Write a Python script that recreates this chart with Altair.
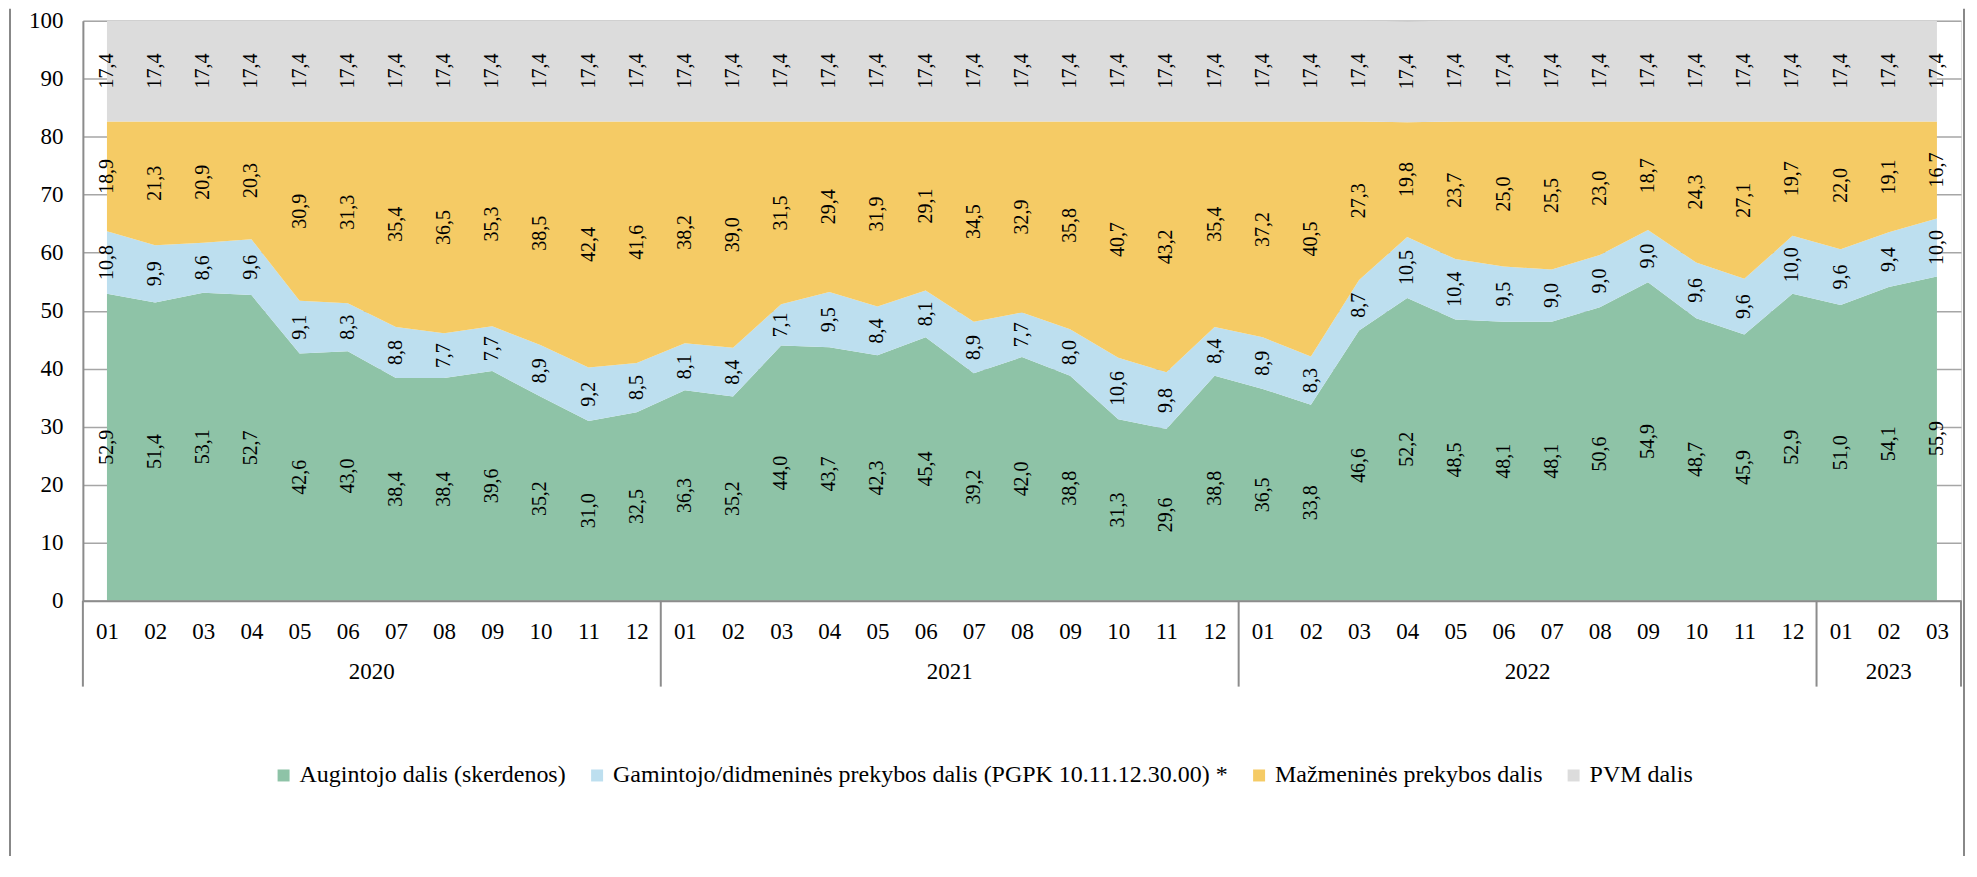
import altair as alt
import pandas as pd

years = ["2020", "2021", "2022", "2023"]
months_per_year = [12, 12, 12, 3]
month_labels = ["01", "02", "03", "04", "05", "06", "07", "08", "09", "10", "11", "12",
                "01", "02", "03", "04", "05", "06", "07", "08", "09", "10", "11", "12",
                "01", "02", "03", "04", "05", "06", "07", "08", "09", "10", "11", "12",
                "01", "02", "03"]

series = ["Augintojo dalis (skerdenos)",
          "Gamintojo/didmeninės prekybos dalis (PGPK 10.11.12.30.00) *",
          "Mažmeninės prekybos dalis",
          "PVM dalis"]
colors = ["#8EC3A7", "#BDDFEF", "#F5CB65", "#DCDCDC"]

augintojo = [52.9, 51.4, 53.1, 52.7, 42.6, 43.0, 38.4, 38.4, 39.6, 35.2, 31.0, 32.5,
             36.3, 35.2, 44.0, 43.7, 42.3, 45.4, 39.2, 42.0, 38.8, 31.3, 29.6, 38.8,
             36.5, 33.8, 46.6, 52.2, 48.5, 48.1, 48.1, 50.6, 54.9, 48.7, 45.9, 52.9,
             51.0, 54.1, 55.9]
gamintojo = [10.8, 9.9, 8.6, 9.6, 9.1, 8.3, 8.8, 7.7, 7.7, 8.9, 9.2, 8.5,
             8.1, 8.4, 7.1, 9.5, 8.4, 8.1, 8.9, 7.7, 8.0, 10.6, 9.8, 8.4,
             8.9, 8.3, 8.7, 10.5, 10.4, 9.5, 9.0, 9.0, 9.0, 9.6, 9.6, 10.0,
             9.6, 9.4, 10.0]
mazmenines = [18.9, 21.3, 20.9, 20.3, 30.9, 31.3, 35.4, 36.5, 35.3, 38.5, 42.4, 41.6,
              38.2, 39.0, 31.5, 29.4, 31.9, 29.1, 34.5, 32.9, 35.8, 40.7, 43.2, 35.4,
              37.2, 40.5, 27.3, 19.8, 23.7, 25.0, 25.5, 23.0, 18.7, 24.3, 27.1, 19.7,
              22.0, 19.1, 16.7]
pvm = [17.4, 17.4, 17.4, 17.4, 17.4, 17.4, 17.4, 17.4, 17.4, 17.4, 17.4, 17.4,
       17.4, 17.4, 17.4, 17.4, 17.4, 17.4, 17.4, 17.4, 17.4, 17.4, 17.4, 17.4,
       17.4, 17.4, 17.4, 17.4, 17.4, 17.4, 17.4, 17.4, 17.4, 17.4, 17.4, 17.4,
       17.4, 17.4, 17.4]

FONT = "Liberation Serif"
AXIS_COLOR = "#8C8C8C"
n = len(month_labels)

rows = []
for s_i, (name, vals) in enumerate(zip(series, [augintojo, gamintojo, mazmenines, pvm])):
    for i, v in enumerate(vals):
        rows.append({"idx": i, "series": name, "order": s_i, "value": v})
df = pd.DataFrame(rows)
df["lower"] = df.groupby("idx")["value"].cumsum() - df["value"]
df["mid"] = df["lower"] + df["value"] / 2
df["label"] = df["value"].map(lambda v: f"{v:.1f}".replace(".", ","))

# year groups
starts = []
acc = 0
for c in months_per_year:
    starts.append(acc)
    acc += c
years_df = pd.DataFrame({
    "year": years,
    "center": [s + (c - 1) / 2 for s, c in zip(starts, months_per_year)],
})
sep_df = pd.DataFrame({"sx": [s - 0.5 for s in starts] + [acc - 0.5]})

label_expr = "[" + ",".join(f"'{m}'" for m in month_labels) + "][datum.value]"

PLOT_H = 581
x_scale = alt.Scale(domain=[-0.5, n - 0.5], nice=False, zero=False)
y_scale = alt.Scale(domain=[0, 100], nice=False)

x_axis = alt.Axis(values=list(range(n)), labelExpr=label_expr, title=None,
                  grid=False, ticks=False, domain=True, domainColor=AXIS_COLOR,
                  domainWidth=2, labelFont=FONT, labelFontSize=23,
                  labelColor="black", labelPadding=20, labelFlush=False,
                  labelOverlap=False, zindex=1)
y_axis = alt.Axis(values=list(range(0, 101, 10)), title=None, grid=True,
                  gridColor="#A6A6A6", gridWidth=1.5, ticks=False,
                  domain=True, domainColor=AXIS_COLOR, domainWidth=2,
                  labelFont=FONT, labelFontSize=23, labelColor="black",
                  labelPadding=20, labelFlush=False, zindex=0)

areas = alt.Chart(df).mark_area(interpolate="linear", opacity=1).encode(
    x=alt.X("idx:Q", scale=x_scale, axis=x_axis),
    y=alt.Y("value:Q", stack="zero", scale=y_scale, axis=y_axis),
    color=alt.Color("series:N", scale=alt.Scale(domain=series, range=colors),
                    legend=alt.Legend(title=None, orient="none", direction="horizontal",
                                      legendX=189, legendY=744,
                                      symbolType="square", symbolSize=144,
                                      symbolStrokeWidth=0, symbolOpacity=1,
                                      labelFont=FONT, labelFontSize=24,
                                      labelColor="black", labelLimit=0,
                                      columnPadding=19, symbolOffset=0,
                                      labelOffset=4)),
    order=alt.Order("order:Q", sort="ascending"),
)

texts = alt.Chart(df).mark_text(angle=270, font=FONT, fontSize=20, color="black",
                                align="center", baseline="middle").encode(
    x=alt.X("idx:Q", scale=x_scale, axis=x_axis),
    y=alt.Y("mid:Q", scale=y_scale, axis=y_axis),
    text="label:N",
)

seps = alt.Chart(sep_df).mark_rule(color=AXIS_COLOR, strokeWidth=2).encode(
    x=alt.X("sx:Q", scale=x_scale, axis=x_axis),
    y=alt.value(PLOT_H),
    y2=alt.value(PLOT_H + 86),
)

year_text = alt.Chart(years_df).mark_text(font=FONT, fontSize=23, color="black",
                                          align="center", baseline="middle").encode(
    x=alt.X("center:Q", scale=x_scale, axis=x_axis),
    y=alt.value(PLOT_H + 71),
    text="year:N",
)

frame_df = pd.DataFrame({"side": ["left", "right"]})
frame_left = alt.Chart(frame_df.iloc[:1]).mark_rule(color="#888888", strokeWidth=2).encode(
    x=alt.value(-73), y=alt.value(-12), y2=alt.value(880))
frame_right = alt.Chart(frame_df.iloc[1:]).mark_rule(color="#888888", strokeWidth=2).encode(
    x=alt.value(1884), y=alt.value(-12), y2=alt.value(880))

chart = alt.layer(areas, texts, seps, year_text, frame_left, frame_right).properties(
    width=1881, height=PLOT_H,
    autosize=alt.AutoSizeParams(type="none"),
    padding={"left": 75, "top": 12, "right": 8, "bottom": 255},
).configure_view(stroke=None).configure(background="white").configure_legend(
    labelFont=FONT, labelFontSize=24, labelColor="black")

chart.save("out.html", embed_options={"renderer": "svg", "actions": False})
